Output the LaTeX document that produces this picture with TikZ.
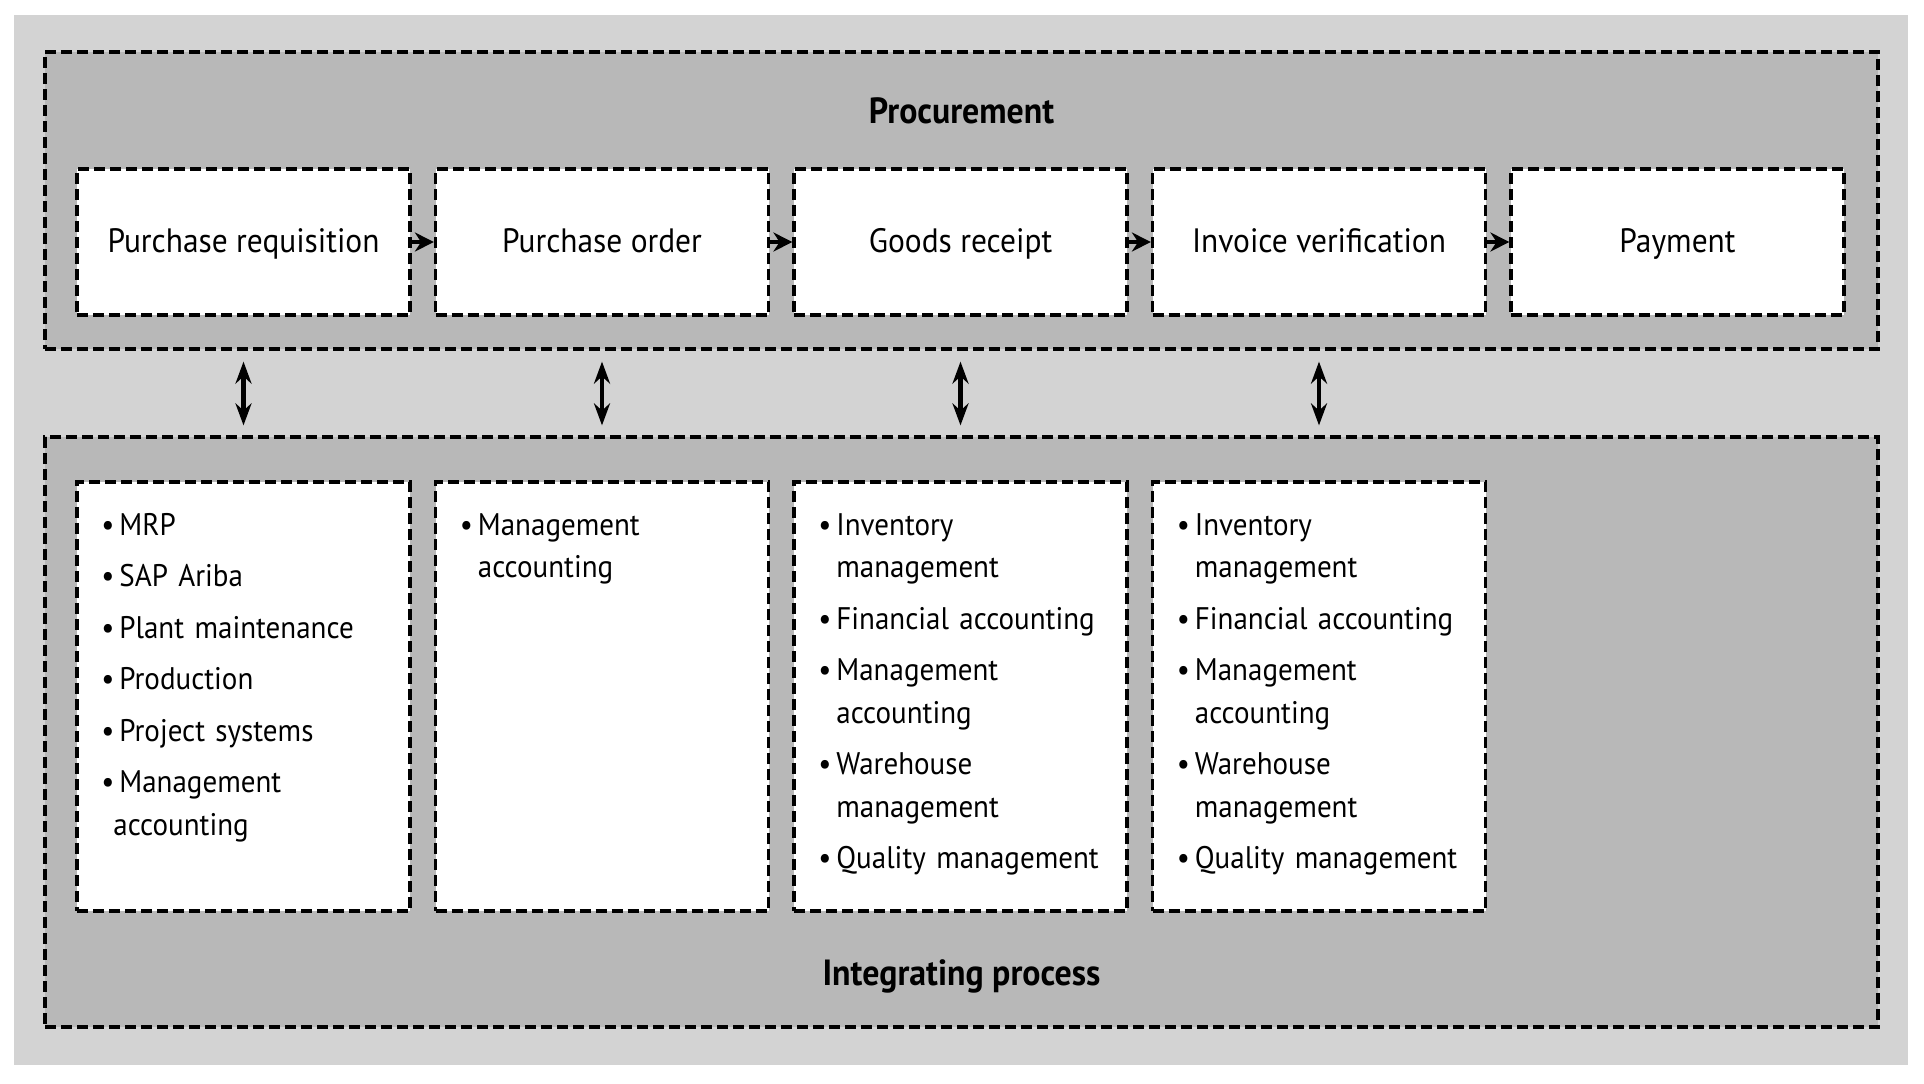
\documentclass[tikz,border=0pt]{standalone}
\usepackage{fontspec}
\setmainfont{PT Sans}[FakeStretch=0.93]
\usetikzlibrary{arrows.meta}
\definecolor{bglight}{HTML}{D3D3D3}
\definecolor{bgdark}{HTML}{B8B8B8}
\tikzset{dashbox/.style={draw=black, line width=1.6pt, dash pattern=on 5.5pt off 2.5pt},
frame/.style={dashbox, fill=bgdark, minimum width=916.5pt, inner sep=0pt},
procbox/.style={dashbox, fill=white, minimum width=166.5pt, minimum height=73pt, inner sep=0pt,
  text height=12pt, text depth=2pt, font=\fontsize{16.9}{20}\selectfont},
intbox/.style={dashbox, fill=white, minimum width=166.5pt, minimum height=214.5pt, inner sep=0pt},
itemlist/.style={anchor=north west, inner sep=0pt, text width=160pt, align=left,
  font=\fontsize{15.6}{21.25}\selectfont\setlength{\parskip}{4.5pt}},
title/.style={anchor=base, inner sep=0pt, font=\bfseries\fontsize{18.2}{22}\selectfont},
flow/.style={-{Stealth[length=9.5pt,width=9.5pt]}, line width=2pt},
link/.style={{Stealth[length=11pt,width=8pt]}-{Stealth[length=11pt,width=8pt]}, line width=2.3pt,
  shorten <=5.5pt, shorten >=5pt}}
% one bullet point with hanging indent
\newcommand{\itm}[1]{\hangindent=9pt\noindent\makebox[9pt][l]{\textbullet}\strut#1\par}

\begin{document}
\begin{tikzpicture}[x=0.5pt, y=-0.5pt]

    \path[use as bounding box, fill=white] (0,0) rectangle (1924,1083);
    \fill[bglight] (14,15) rectangle (1908,1065);

    % the two frames
    \node[frame, minimum height=148.5pt] (proc) at (961.5,200.5) {};
    \node[frame, minimum height=295pt] (integ) at (961.5,732) {};

    \node[title] (proctitle) at (961.5,123) {Procurement};
    \node[title] (integtitle) at (961.5,985) {Integrating process};

    % procurement steps
    \foreach \i/\t in {1/Purchase requisition, 2/Purchase order, 3/Goods receipt,
                       4/Invoice verification, 5/Payment}
    \node[procbox] (pr\i) at ({243.5+358.5*(\i-1)},242) {\t};

    \foreach \i/\j in {1/2, 2/3, 3/4, 4/5}
    \draw[flow] (pr\i) -- (pr\j);

    % integrated components
    \foreach \i in {1,2,3,4}
    \node[intbox] (in\i) at ({243.5+358.5*(\i-1)},696.5) {};

    \foreach \i in {1,2,3,4}
    \draw[link] (pr\i |- proc.south) -- (pr\i |- integ.north);

    \node[itemlist] (li1) at (101,505) {\itm{MRP}\itm{SAP Ariba}\itm{Plant maintenance}
      \itm{Production}\itm{Project systems}\itm{Management\newline\hspace*{-3pt}accounting}};
    \node[itemlist] (li2) at (459.5,505) {\itm{Management\newline accounting}};
    \node[itemlist] (li3) at (818,505) {\itm{Inventory\newline management}\itm{Financial accounting}
      \itm{Management\newline accounting}\itm{Warehouse\newline management}\itm{Quality management}};
    \node[itemlist] (li4) at (1176.5,505) {\itm{Inventory\newline management}\itm{Financial accounting}
      \itm{Management\newline accounting}\itm{Warehouse\newline management}\itm{Quality management}};

\end{tikzpicture}
\end{document}
